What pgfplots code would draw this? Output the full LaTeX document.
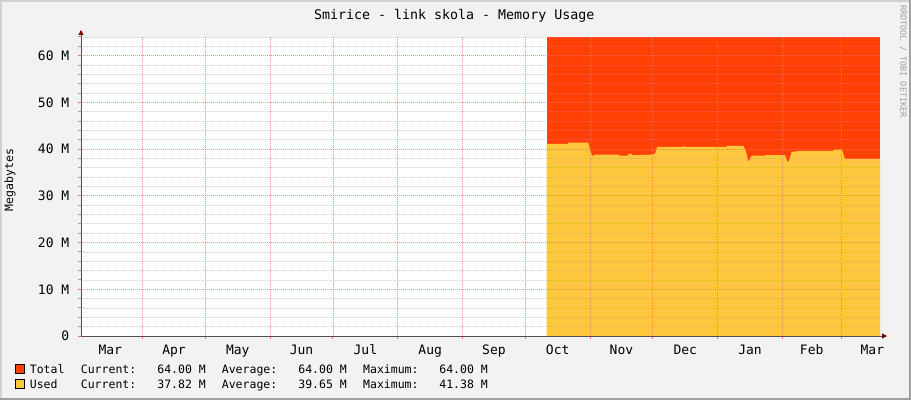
\documentclass[border=0pt]{standalone}
\usepackage{pgfplots}
\pgfplotsset{compat=1.18}
\usepackage{fontspec}
\setmainfont{DejaVu Sans Mono}
\usetikzlibrary{arrows.meta}

\definecolor{bgc}{HTML}{F2F2F2}
\definecolor{totalc}{HTML}{FF4105}
\definecolor{usedc}{HTML}{FFC73B}
\definecolor{axisc}{HTML}{505050}
\definecolor{arrowc}{HTML}{800000}
\definecolor{mgridc}{HTML}{FF7070}
\definecolor{gridc}{HTML}{A0A0A0}

\begin{document}
\begin{tikzpicture}[x=1bp,y=1bp]
\useasboundingbox (0,0) rectangle (911,400);
\fill[bgc] (0,0) rectangle (911,400);
\draw[line width=2bp,color={rgb,255:red,208;green,208;blue,208}] (1,0) -- (1,399) -- (911,399);
\draw[line width=2bp,color={rgb,255:red,160;green,160;blue,160}] (0,1) -- (910,1) -- (910,400);

\begin{axis}[
  at={(81bp,64bp)}, anchor=south west,
  scale only axis, width=799bp, height=299bp,
  xmin=1.5, xmax=383.66, ymin=0, ymax=64,
  axis background/.style={fill=white},
  axis lines=left,
  axis line style={axisc, line width=1bp, shorten >=-7bp,
    -{Triangle[length=5bp,width=5bp,color=arrowc]}},
  axis on top,
  tick align=outside,
  major tick length=3bp, minor tick length=3bp,
  xtick={15.5,46,76.5,107,137.5,168.5,199,229.5,260,290.5,321.5,351,380},
  xticklabels={Mar,Apr,May,Jun,Jul,Aug,Sep,Oct,Nov,Dec,Jan,Feb,Mar},
  major x tick style={draw=none},
  minor xtick={31,61,92,122,153,184,214,245,275,306,337,365},
  minor x tick style={mgridc, line width=1bp},
  xminorgrids=true,
  minor x grid style={mgridc, line width=0.8bp, dash pattern=on 1bp off 1bp, opacity=0.75},
  ytick={0,10,20,30,40,50,60},
  yticklabels={0,10 M,20 M,30 M,40 M,50 M,60 M},
  minor ytick={2,4,6,8,12,14,16,18,22,24,26,28,32,34,36,38,42,44,46,48,52,54,56,58,62,64},
  major y tick style={mgridc, line width=1bp},
  minor y tick style={gridc, line width=1bp},
  ymajorgrids=true, yminorgrids=true,
  major y grid style={mgridc, line width=0.8bp, dash pattern=on 1bp off 1bp, opacity=0.75},
  minor y grid style={gridc, line width=0.8bp, dash pattern=on 1bp off 1bp, opacity=0.5},
  xticklabel style={font=\fontsize{13bp}{15bp}\selectfont, inner sep=0pt, anchor=base, yshift=-15bp},
  yticklabel style={font=\fontsize{13bp}{15bp}\selectfont, inner sep=0pt, anchor=east, xshift=-8.5bp},
]
\addplot[fill=totalc, draw=none] coordinates {(224.2,64) (383.66,64)} \closedcycle;
\addplot[fill=usedc, draw=none] coordinates {
 (224.2,41.1) (234.4,41.1) (234.6,41.4) (244.1,41.4) (244.9,40.0) (246.2,38.4)
 (247.0,38.8) (258.5,38.8) (259,38.6) (263,38.6) (263.1,39.0) (265,39.0)
 (265.2,38.7) (273.6,38.8) (276.0,39.0) (277.1,40.5) (289.5,40.5) (289.6,40.7)
 (290.5,40.5) (310.3,40.5) (310.4,40.7) (318.3,40.7) (319.6,39.5) (320.7,37.3)
 (322.3,38.6) (328.7,38.6) (328.8,38.7) (338.2,38.7) (339.0,37.8) (339.5,37.2)
 (340.2,37.6) (341.4,39.4) (344.6,39.6) (361.3,39.6) (361.4,39.9) (365.5,39.9)
 (366.1,39.0) (366.9,37.9) (383.66,37.9)} \closedcycle;
\end{axis}

% title, axis label, watermark
\node[anchor=base, inner sep=0pt, font=\fontsize{13.3bp}{16bp}\selectfont] at (454.2,380.7) {Smirice - link skola - Memory Usage};
\node[rotate=90, inner sep=0pt, font=\fontsize{11.5bp}{14bp}\selectfont] at (10,220) {Megabytes};
\node[rotate=-90, inner sep=0pt, text=gridc, font=\fontsize{8.5bp}{10bp}\selectfont] at (903,338.5) {RRDTOOL / TOBI OETIKER};

% legend
\begin{scope}[font=\fontsize{11.5bp}{14bp}\selectfont, every node/.style={inner sep=0pt}]
\filldraw[fill=totalc, draw=black, line width=1bp] (15.5,27) rectangle (24.5,36);
\filldraw[fill=usedc, draw=black, line width=1bp] (15.5,11.5) rectangle (24.5,20.5);
\node[anchor=base west] at (29.7,26.7) {Total};
\node[anchor=base west] at (80.7,26.7) {Current:};
\node[anchor=base east] at (206,26.7) {64.00 M};
\node[anchor=base west] at (221.7,26.7) {Average:};
\node[anchor=base east] at (347,26.7) {64.00 M};
\node[anchor=base west] at (363,26.7) {Maximum:};
\node[anchor=base east] at (488,26.7) {64.00 M};
\node[anchor=base west] at (29.7,11.7) {Used};
\node[anchor=base west] at (80.7,11.7) {Current:};
\node[anchor=base east] at (206,11.7) {37.82 M};
\node[anchor=base west] at (221.7,11.7) {Average:};
\node[anchor=base east] at (347,11.7) {39.65 M};
\node[anchor=base west] at (363,11.7) {Maximum:};
\node[anchor=base east] at (488,11.7) {41.38 M};
\end{scope}
\end{tikzpicture}
\end{document}
